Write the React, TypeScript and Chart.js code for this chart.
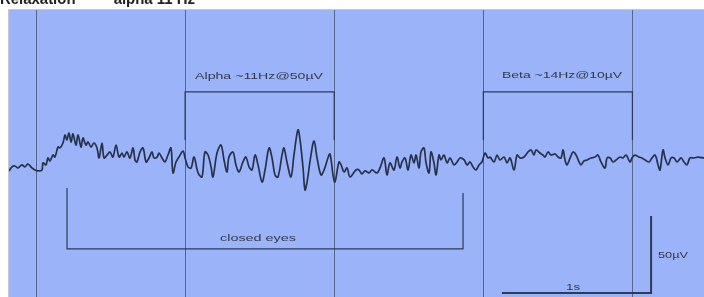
import React, { useEffect, useRef } from "react";
import { Chart, registerables } from "chart.js";

Chart.register(...registerables);

// EEG trace: time in seconds (vertical grid lines mark whole seconds), amplitude in µV
const eegTime = [
  -0.181, -0.161, -0.141, -0.121, -0.094, -0.074, -0.054, -0.027, -0.007, 0.013,
  0.040, 0.047, 0.067, 0.080, 0.094, 0.114, 0.127, 0.148, 0.161, 0.181,
  0.195, 0.208, 0.221, 0.235, 0.248, 0.268, 0.282, 0.302, 0.315, 0.335,
  0.349, 0.369, 0.389, 0.409, 0.423, 0.443, 0.456, 0.476, 0.496, 0.516,
  0.537, 0.557, 0.577, 0.590, 0.610, 0.630, 0.651, 0.664, 0.677, 0.698,
  0.718, 0.738, 0.758, 0.778, 0.791, 0.812, 0.825, 0.845, 0.865, 0.885,
  0.905, 0.919, 0.939,
  0.959, 0.986, 1.000, 1.019, 1.040, 1.060, 1.087, 1.113, 1.133, 1.154,
  1.174, 1.187, 1.214, 1.241, 1.261, 1.281, 1.294, 1.321, 1.341, 1.362,
  1.388, 1.408, 1.429, 1.449, 1.469, 1.489, 1.516, 1.536, 1.563, 1.583,
  1.603, 1.623, 1.650, 1.663, 1.683, 1.710, 1.730, 1.757, 1.771, 1.791,
  1.804, 1.818, 1.844, 1.865, 1.885, 1.911, 1.932, 1.958, 1.972, 1.992,
  2.005, 2.032, 2.046, 2.066, 2.086, 2.106,
  2.146, 2.166, 2.186, 2.207, 2.233, 2.254, 2.287, 2.307, 2.334, 2.354,
  2.374, 2.401, 2.421, 2.441, 2.455, 2.475, 2.495, 2.515, 2.535, 2.549,
  2.569, 2.582, 2.602, 2.616, 2.636, 2.649, 2.669, 2.683, 2.703, 2.716,
  2.736, 2.757, 2.777, 2.803, 2.824, 2.844, 2.871, 2.891, 2.911, 2.931,
  2.951, 2.971, 2.991, 3.011, 3.032, 3.045, 3.072, 3.092, 3.112, 3.139,
  3.159, 3.179, 3.206, 3.226, 3.246, 3.273, 3.300,
  3.320, 3.340, 3.353, 3.380, 3.400, 3.414, 3.434, 3.454, 3.481, 3.501,
  3.521, 3.535, 3.548, 3.561, 3.582, 3.602, 3.622, 3.642, 3.655, 3.675,
  3.696, 3.722, 3.749, 3.769, 3.789, 3.816, 3.830, 3.850, 3.870, 3.890,
  3.917, 3.937, 3.957, 3.984, 3.997, 4.017, 4.044, 4.064, 4.085, 4.111,
  4.131, 4.152, 4.172, 4.185, 4.205, 4.219, 4.239, 4.259, 4.279, 4.299,
  4.326, 4.346, 4.366, 4.386, 4.413, 4.440, 4.480,
];

const eegMicrovolts = [
  -7.1, -4.5, -3.9, -5.2, -3.2, -4.5, -2.6, -5.2, -6.5, -7.1,
  -6.5, -1.9, -3.2, 1.3, -0.6, 3.2, 1.9, 8.4, 7.8, 11.0,
  16.2, 13.0, 17.5, 11.7, 16.9, 9.7, 16.2, 8.4, 14.3, 9.7,
  11.7, 8.4, 11.0, 7.8, 1.3, 11.0, 1.3, 3.2, 5.2, 1.9,
  9.7, 1.9, 4.5, 1.9, 5.2, 1.3, 7.8, 0, -1.3, 5.2,
  7.8, -1.3, 1.3, 5.2, 1.3, 1.9, 4.5, 1.3, -1.3, 3.2,
  7.8, -8.4, -1.3,
  1.9, 5.8, 1.3, -4.5, -5.2, 1.9, -8.4, -11.0, 5.2, 3.2,
  -4.5, -11.0, 4.5, 9.7, 0, -7.8, 1.9, 5.2, -3.2, -7.8,
  -1.3, 1.9, -4.5, -6.5, 3.2, -3.2, -14.3, -6.5, 7.8, 1.3,
  -9.7, -11.0, 3.2, 7.8, -1.3, -11.0, 3.2, 19.5, 13.0, -5.2,
  -19.5, -14.3, 3.2, 12.3, 1.3, -9.7, -6.5, 1.3, 3.9, -9.7,
  -14.3, -1.3, -3.2, -7.8, -5.2, -11.0,
  -6.5, -6.5, -9.1, -7.1, -8.4, -6.5, -8.4, -5.2, 1.3, -9.7,
  -1.9, -6.5, 1.9, -5.2, -1.3, 1.3, -6.5, 3.2, -1.9, 3.2,
  -5.2, 5.2, 7.8, -1.9, -8.4, 5.2, -1.9, -9.7, 3.2, 0,
  3.2, -1.9, 1.3, -3.2, -1.3, 1.3, 0, -3.2, -1.3, -4.5,
  -6.5, -3.2, -1.3, 4.5, 1.3, 1.9, -1.3, 3.2, 0, 1.9,
  -1.9, 1.3, -6.5, 3.2, 1.3, 1.9, 5.2,
  6.5, 3.2, 6.5, 4.5, 3.2, 1.9, 5.2, 3.2, 3.9, 1.9,
  1.3, 6.5, 0, -3.2, 1.3, 5.2, 3.2, -1.3, -3.2, -0.6,
  0, 1.3, 1.9, 3.2, -1.3, -5.2, 1.3, 1.3, -1.3, 0,
  1.9, 1.3, 3.2, -1.3, 1.3, 3.2, 1.9, 1.3, 0, -1.3,
  1.3, 3.2, -3.2, -6.5, 6.5, 1.3, -3.2, 1.3, 1.3, -1.3,
  1.3, -1.3, -3.2, 1.3, 1.3, 1.9, 1.3,
];

const secondMarks = [0, 1, 2, 3, 4];

const alphaLabel = "Alpha ~11Hz@50µV";
const betaLabel = "Beta ~14Hz@10µV";
const eyesLabel = "closed eyes";
const timeScaleLabel = "1s";
const voltScaleLabel = "50µV";
const headerText = "Relaxation —— alpha 11 Hz";

const BLUE = "#9ab3f9";
const GRID = "#56658a";
const INK = "#2e3a58";
const TEXT = "#353a48";

export default function App() {
  const ref = useRef<HTMLCanvasElement | null>(null);

  useEffect(() => {
    const canvas = ref.current;
    if (!canvas) return;

    const points = eegTime.map((t, i) => ({ x: t, y: eegMicrovolts[i] }));

    const stretchText = (
      ctx: CanvasRenderingContext2D,
      text: string,
      cx: number,
      cy: number,
      targetW: number,
      size: number
    ) => {
      ctx.save();
      ctx.font = `${size}px "Liberation Sans", Arial, sans-serif`;
      const w = ctx.measureText(text).width;
      ctx.translate(cx, cy);
      ctx.scale(targetW / w, 1);
      ctx.textAlign = "center";
      ctx.textBaseline = "middle";
      ctx.fillStyle = TEXT;
      ctx.fillText(text, 0, 0);
      ctx.restore();
    };

    const backdrop = {
      id: "eegBackdrop",
      beforeDraw(chart: any) {
        const { ctx, chartArea: a, scales } = chart;
        const xs = scales.x;
        ctx.save();
        ctx.fillStyle = "#ffffff";
        ctx.fillRect(0, 0, chart.width, chart.height);
        // header text, cut off by the top of the picture
        ctx.font = 'bold 16px "Liberation Sans", Arial, sans-serif';
        ctx.fillStyle = "#222";
        ctx.textBaseline = "alphabetic";
        const hw = ctx.measureText(headerText).width;
        ctx.save();
        ctx.scale(195 / hw, 1);
        ctx.fillText(headerText, 0, 4);
        ctx.restore();
        ctx.fillStyle = BLUE;
        ctx.fillRect(a.left, a.top, a.right - a.left, a.bottom - a.top);
        ctx.strokeStyle = "#c4c8d0";
        ctx.lineWidth = 1;
        ctx.beginPath();
        ctx.moveTo(a.left - 0.5, a.bottom);
        ctx.lineTo(a.left - 0.5, a.top - 0.5);
        ctx.lineTo(a.right, a.top - 0.5);
        ctx.stroke();
        ctx.strokeStyle = GRID;
        ctx.lineWidth = 1;
        secondMarks.forEach((s) => {
          const px = Math.round(xs.getPixelForValue(s)) + 0.5;
          ctx.beginPath();
          ctx.moveTo(px, a.top);
          ctx.lineTo(px, a.bottom);
          ctx.stroke();
        });
        ctx.restore();
      },
    };

    const annotations = {
      id: "eegAnnotations",
      afterDatasetsDraw(chart: any) {
        const { ctx, scales } = chart;
        const X = (v: number) => scales.x.getPixelForValue(v);
        const Y = (v: number) => scales.y.getPixelForValue(v);
        ctx.save();
        ctx.strokeStyle = INK;
        ctx.lineWidth = 1.2;
        const bracketTop = (t0: number, t1: number) => {
          ctx.beginPath();
          ctx.moveTo(X(t0), Y(13));
          ctx.lineTo(X(t0), Y(44.2));
          ctx.lineTo(X(t1), Y(44.2));
          ctx.lineTo(X(t1), Y(13));
          ctx.stroke();
        };
        bracketTop(1, 2);
        bracketTop(3, 4);
        // closed-eyes bracket
        ctx.beginPath();
        ctx.moveTo(X(0.208), Y(-18.2));
        ctx.lineTo(X(0.208), Y(-57.8));
        ctx.lineTo(X(2.864), Y(-57.8));
        ctx.lineTo(X(2.864), Y(-21.4));
        ctx.stroke();
        // scale bar: 1 s and 50 µV
        ctx.lineWidth = 2;
        ctx.beginPath();
        ctx.moveTo(X(3.125), Y(-86.4));
        ctx.lineTo(X(4.125), Y(-86.4));
        ctx.lineTo(X(4.125), Y(-36.4));
        ctx.stroke();
        ctx.restore();

        stretchText(ctx, alphaLabel, X(1.496), Y(54.5), 128, 9.5);
        stretchText(ctx, betaLabel, X(3.528), Y(55.2), 120, 9.5);
        stretchText(ctx, eyesLabel, X(1.489), Y(-50.6), 76, 9.5);
        stretchText(ctx, voltScaleLabel, X(4.272), Y(-61.7), 30, 9.5);
        stretchText(ctx, timeScaleLabel, X(3.602), Y(-82.5), 14, 9.5);
      },
    };

    const chart = new Chart(canvas, {
      type: "line",
      data: {
        datasets: [
          {
            data: points,
            borderColor: "#28314a",
            borderWidth: 1.7,
            pointRadius: 0,
            tension: 0.35,
            fill: false,
          },
        ],
      },
      options: {
        animation: false,
        responsive: false,
        devicePixelRatio: 1,
        parsing: false as any,
        layout: { padding: { left: 9, top: 10, right: 0, bottom: 0 } },
        plugins: {
          legend: { display: false },
          tooltip: { enabled: false },
          title: { display: false },
        },
        scales: {
          x: { type: "linear", min: -0.181, max: 4.48, display: false },
          y: { type: "linear", min: -89.0, max: 97.4, display: false },
        },
      },
      plugins: [backdrop, annotations],
    });

    return () => chart.destroy();
  }, []);

  return (
    <div style={{ position: "absolute", left: 0, top: 0, width: 704, height: 297 }}>
      <canvas
        ref={ref}
        width={704}
        height={297}
        style={{ display: "block", width: 704, height: 297 }}
      />
    </div>
  );
}
